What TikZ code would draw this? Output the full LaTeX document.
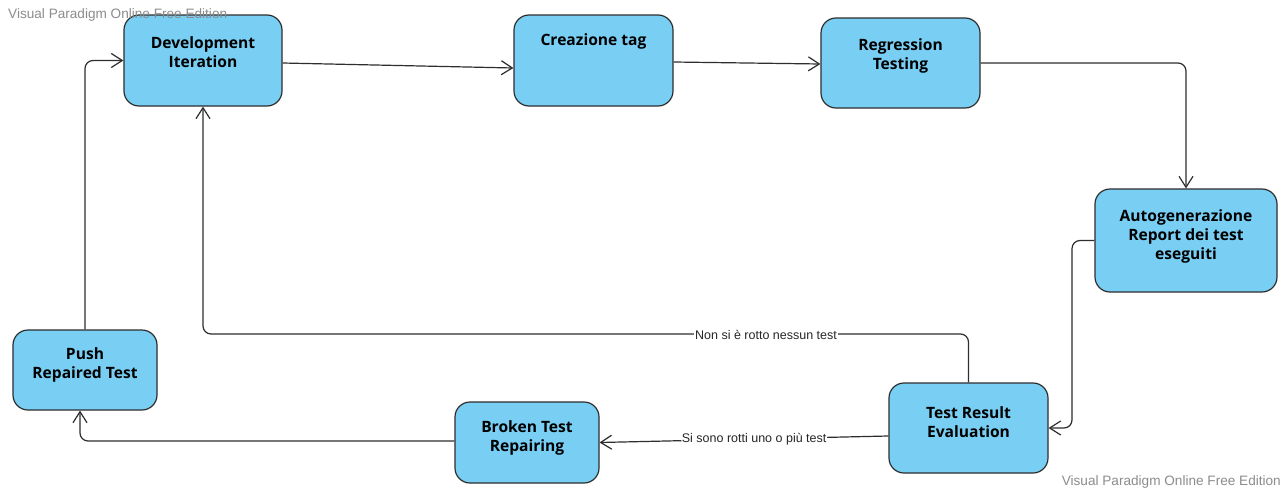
\documentclass[tikz,border=0pt]{standalone}
\usepackage{fontspec}
\setmainfont{Liberation Sans}
\newfontfamily\boxfont{Open Sans}
\usetikzlibrary{arrows.meta,calc}
\definecolor{boxfill}{HTML}{79CEF4}
\definecolor{edge}{HTML}{2E2E2E}
\definecolor{wm}{HTML}{8C8C8C}
\tikzset{
  stepbox/.style={draw=edge, line width=1.2pt, fill=boxfill, rounded corners=15pt,
    inner sep=0pt},
  boxtext/.style={font=\boxfont\bfseries\fontsize{15.6}{19}\selectfont, align=center,
    text=black, inner sep=0pt},
  flow/.style={draw=edge, line width=1.2pt, rounded corners=8pt,
    -{Straight Barb[length=11pt,width=14pt,line width=1.2pt]}},
  edgelabel/.style={font=\fontsize{12.5}{14}\selectfont, fill=white, inner sep=1pt,
    text=black!85},
  watermark/.style={font=\fontsize{13.6}{15}\selectfont, text=wm, inner sep=0pt}
}
\begin{document}
\begin{tikzpicture}[x=1pt,y=-1pt]
\useasboundingbox[fill=white] (0,0) rectangle (1288,490);

% activity boxes
\node[stepbox, minimum width=158pt, minimum height=91pt] (dev) at (203,60.5) {};
\node[boxtext] (devt) at (203,52.5) {Development\\Iteration};

\node[stepbox, minimum width=159pt, minimum height=91pt] (cre) at (593.5,60.5) {};
\node[boxtext] (cret) at (593.5,41) {Creazione tag};

\node[stepbox, minimum width=159pt, minimum height=90pt] (reg) at (900.5,63) {};
\node[boxtext] (regt) at (900.5,56) {Regression\\Testing};

\node[stepbox, minimum width=182pt, minimum height=103pt] (auto) at (1186,240.5) {};
\node[boxtext] (autot) at (1186,236.5) {Autogenerazione\\Report dei test\\eseguiti};

\node[stepbox, minimum width=159pt, minimum height=90pt] (tre) at (968.5,428) {};
\node[boxtext] (tret) at (968.5,422.5) {Test Result\\Evaluation};

\node[stepbox, minimum width=144pt, minimum height=81pt] (brk) at (527,442.5) {};
\node[boxtext] (brkt) at (527,437.5) {Broken Test\\Repairing};

\node[stepbox, minimum width=144pt, minimum height=80pt] (push) at (85,370) {};
\node[boxtext] (pusht) at (85,365) {Push\\Repaired Test};

% transitions
\draw[flow] ($(dev.east)+(0,2.5)$) -- ($(cre.west)+(0,7.5)$);
\draw[flow] ($(cre.east)+(0,1.5)$) -- ($(reg.west)+(0,1)$);
\draw[flow] (reg.east) -| (auto.north);
\draw[flow] (auto.west) -- (1072,240.5) -- (1072,428) -- (tre.east);
\coordinate (okturn) at (203,334);
\draw[flow] (tre.north) |- (okturn) -- (dev.south);
\node[edgelabel] (oklabel) at (766,335) {Non si è rotto nessun test};
\draw[flow] ($(tre.west)+(0,8)$) -- (brk.east)
  node[edgelabel, pos=0.465] (kolabel) {Si sono rotti uno o più test};
\draw[flow] ($(brk.west)+(0,-1.5)$) -| ($(push.south)+(-5,0)$);
\draw[flow] (push.north) |- (dev.west);

% edition marks
\node[watermark, anchor=west] (wm1) at (8,15) {Visual Paradigm Online Free Edition};
\node[watermark, anchor=east] (wm2) at (1281,482) {Visual Paradigm Online Free Edition};
\end{tikzpicture}
\end{document}
